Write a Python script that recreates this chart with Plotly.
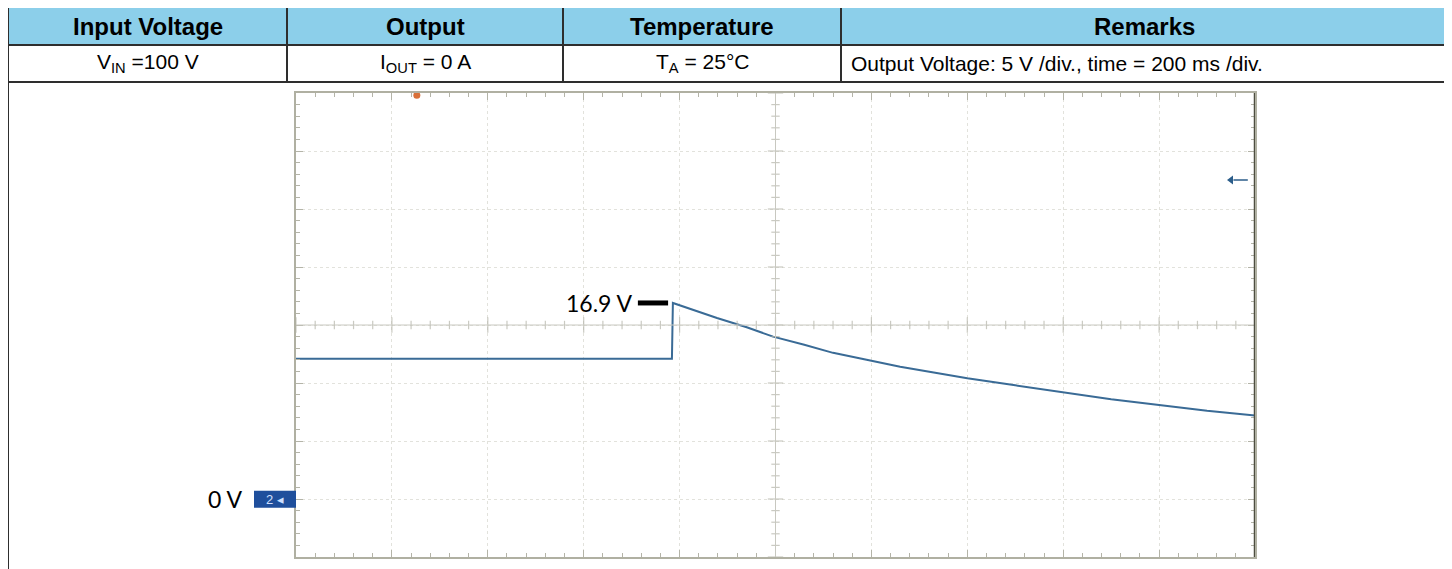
import plotly.graph_objects as go

OFF = 8                      # page body margin of the html page
W, H = 1452 - OFF, 569 - OFF

# ---- table content ----
header_labels = ["Input Voltage", "Output", "Temperature", "Remarks"]
row_values = ["V<sub>IN</sub> =100 V", "I<sub>OUT</sub> = 0 A", "T<sub>A</sub> = 25°C",
              "Output Voltage: 5 V /div., time = 200 ms /div."]

# ---- scope trace (time in ms, output voltage in V) ----
time_ms = [0, 784, 786, 842, 878, 940, 995, 1060, 1120, 1190, 1260, 1330, 1400, 1500, 1600, 1700, 1800, 1900, 2000]
volts = [12.1, 12.1, 16.9, 16.1, 15.6, 14.8, 14.0, 13.3, 12.6, 12.0, 11.4, 10.9, 10.4, 9.8, 9.2, 8.6, 8.1, 7.6, 7.2]
peak_label = "16.9 V"
peak_value = 16.9
zero_label = "0 V"
trigger_time = 252
level_marker = 27.5

# geometry helpers (page pixels -> paper)
def X(px):
    return (px - OFF) / W

def Y(py):
    return 1 - (py - OFF) / H

col_edges = [8, 287, 563, 841, 1447]
top, head_bot, row_bot = 7, 45, 82
line_col = "#2e2e2e"
tick_col = "#b4b4a8"

fig = go.Figure()

# main waveform
fig.add_trace(go.Scatter(x=time_ms, y=volts, mode="lines",
                         line=dict(color="#3a6b96", width=2), hoverinfo="skip"))

# centre-axis tick marks of the scope graticule
cx_ticks = [t for t in range(0, 2001, 40)]
cy_ticks = [v for v in range(-5, 36)]
fig.add_trace(go.Scatter(x=cx_ticks, y=[15] * len(cx_ticks), mode="markers",
                         marker=dict(symbol="line-ns-open", color=tick_col,
                                     size=[11 if t % 200 == 0 else 6 for t in cx_ticks],
                                     line=dict(color=tick_col, width=1.2)), hoverinfo="skip"))
fig.add_trace(go.Scatter(x=[1000] * len(cy_ticks), y=cy_ticks, mode="markers",
                         marker=dict(symbol="line-ew-open", color=tick_col,
                                     size=[11 if v % 5 == 0 else 6 for v in cy_ticks],
                                     line=dict(color=tick_col, width=1.2)), hoverinfo="skip"))
# trigger marker (orange, top) and level marker (blue, right)
fig.add_trace(go.Scatter(x=[trigger_time], y=[34.8], mode="markers",
                         marker=dict(symbol="circle", size=7, color="#d9703a"), hoverinfo="skip"))
fig.add_trace(go.Scatter(x=[1950], y=[level_marker], mode="markers",
                         marker=dict(symbol="triangle-left", size=8, color="#2b5d8a"), hoverinfo="skip"))

shapes = []
# header fill
shapes.append(dict(type="rect", xref="paper", yref="paper", x0=X(col_edges[0]), x1=X(col_edges[-1]),
                   y0=Y(head_bot), y1=Y(top), fillcolor="#8ccfea", line=dict(width=0), layer="below"))
# horizontal rules
for py in (top, head_bot, row_bot):
    shapes.append(dict(type="line", xref="paper", yref="paper", x0=X(col_edges[0]), x1=X(col_edges[-1]),
                       y0=Y(py), y1=Y(py), line=dict(color=line_col, width=2)))
# outer verticals
for px in (col_edges[0], col_edges[-1]):
    shapes.append(dict(type="line", xref="paper", yref="paper", x0=X(px), x1=X(px),
                       y0=Y(580), y1=Y(top), line=dict(color=line_col, width=2)))
# column dividers
for px in col_edges[1:-1]:
    shapes.append(dict(type="line", xref="paper", yref="paper", x0=X(px), x1=X(px),
                       y0=Y(row_bot), y1=Y(top), line=dict(color=line_col, width=2)))
# scope centre cross
shapes.append(dict(type="line", xref="x", yref="y", x0=0, x1=2000, y0=15, y1=15,
                   line=dict(color="#c8c8c0", width=1)))
shapes.append(dict(type="line", xref="x", yref="y", x0=1000, x1=1000, y0=-5, y1=35,
                   line=dict(color="#c8c8c0", width=1)))
# right border of scope (dark)
shapes.append(dict(type="line", xref="x", yref="y", x0=2000, x1=2000, y0=-5, y1=35,
                   line=dict(color="#4d4d40", width=2.5)))
# level marker stem
shapes.append(dict(type="line", xref="x", yref="y", x0=1955, x1=1985, y0=level_marker, y1=level_marker,
                   line=dict(color="#2b5d8a", width=1.5)))
# peak bar
shapes.append(dict(type="line", xref="x", yref="y", x0=713, x1=776, y0=peak_value, y1=peak_value,
                   line=dict(color="black", width=5)))
# channel-2 ground marker box
shapes.append(dict(type="rect", xref="paper", yref="y", x0=X(254), x1=X(296), y0=-0.75, y1=0.72,
                   fillcolor="#1f4f9c", line=dict(width=0)))

annotations = []
for i, lab in enumerate(header_labels):
    annotations.append(dict(xref="paper", yref="paper", x=X((col_edges[i] + col_edges[i + 1]) / 2),
                            y=Y((top + head_bot) / 2), text=f"<b>{lab}</b>", showarrow=False,
                            font=dict(family="Liberation Sans, Arial", size=24, color="black"),
                            xanchor="center", yanchor="middle"))
for i, val in enumerate(row_values):
    if i < 3:
        annotations.append(dict(xref="paper", yref="paper", x=X((col_edges[i] + col_edges[i + 1]) / 2),
                                y=Y((head_bot + row_bot) / 2), text=val, showarrow=False,
                                font=dict(family="Liberation Sans, Arial", size=21, color="black"),
                                xanchor="center", yanchor="middle"))
    else:
        annotations.append(dict(xref="paper", yref="paper", x=X(col_edges[i] + 8),
                                y=Y((head_bot + row_bot) / 2), text=val, showarrow=False,
                                font=dict(family="Liberation Sans, Arial", size=21, color="black"),
                                xanchor="left", yanchor="middle"))

annotations.append(dict(xref="x", yref="y", x=713, y=peak_value, text=peak_label, showarrow=False,
                        xanchor="right", yanchor="middle", xshift=-3,
                        font=dict(family="Lato, Open Sans", size=23, color="black")))
annotations.append(dict(xref="paper", yref="y", x=X(244), y=0, text=zero_label, showarrow=False,
                        xanchor="right", yanchor="middle",
                        font=dict(family="Lato, Open Sans", size=23, color="black")))
annotations.append(dict(xref="paper", yref="y", x=X(275), y=0, text="2 ◂", showarrow=False,
                        xanchor="center", yanchor="middle",
                        font=dict(family="Liberation Sans", size=13, color="#cfe0ff")))

axis_common = dict(showticklabels=False, zeroline=False, showline=True, linecolor="#b0b0a2",
                   linewidth=1.5, mirror="ticks", ticks="inside", tickcolor=tick_col,
                   showgrid=True, gridcolor="#e2e2dc", griddash="dot", gridwidth=1, fixedrange=True)

fig.update_layout(
    width=W, height=H, margin=dict(l=0, r=0, t=0, b=0),
    paper_bgcolor="white", plot_bgcolor="white", showlegend=False,
    xaxis=dict(domain=[X(296), X(1255)], range=[0, 2000], dtick=200, ticklen=7,
               minor=dict(dtick=40, ticklen=4, ticks="inside", tickcolor=tick_col), **axis_common),
    yaxis=dict(domain=[Y(557), Y(93)], range=[-5, 35], dtick=5, ticklen=7,
               minor=dict(dtick=1, ticklen=4, ticks="inside", tickcolor=tick_col), **axis_common),
    shapes=shapes, annotations=annotations,
)

fig.write_html("out.html")
